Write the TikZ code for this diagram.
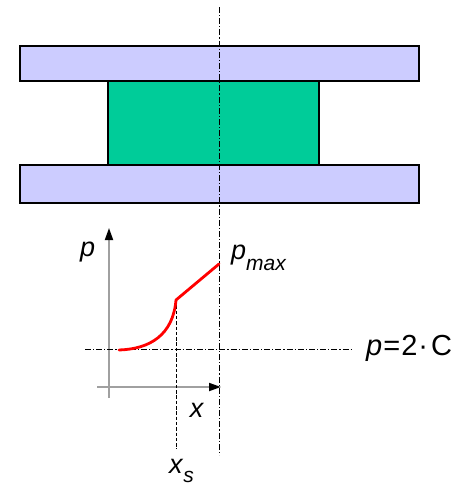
\documentclass[tikz,border=0pt]{standalone}
\usepackage{fontspec}
\setmainfont{Liberation Sans}
\usepackage{xcolor}
\usetikzlibrary{arrows.meta}
\definecolor{plateblue}{HTML}{CCCCFF}
\definecolor{padgreen}{HTML}{00CC99}
\definecolor{axisgray}{HTML}{A0A0A0}
\newcommand{\lowsub}[2]{\raisebox{-#1pt}{\fontsize{21}{24}\selectfont\textit{#2}}}

\begin{document}
\begin{tikzpicture}[
    x=1pt, y=-1pt,
    plate/.style={draw, line width=1.5pt, fill=plateblue},
    pad/.style={draw, line width=1.5pt, fill=padgreen},
    axis/.style={axisgray, line width=1.8pt, -{Triangle[length=12pt, width=8pt, color=black]}},
    centerline/.style={line width=0.9pt, dash pattern=on 6pt off 2pt on 1.2pt off 2pt},
    guide/.style={line width=0.9pt, dash pattern=on 3.5pt off 1.8pt},
    curve/.style={red, line width=2.8pt, line cap=round, line join=round},
    lbl/.style={font=\fontsize{27}{32}\selectfont, inner sep=0pt, anchor=base west}
]
\useasboundingbox (0,0) rectangle (454,488);
% press plates and the pad between them
\draw[plate] (20,46) rectangle (419,81);
\draw[pad] (108,81) rectangle (319,165);
\draw[plate] (20,165) rectangle (419,203);
% axes of the pressure plot
\coordinate (ytip) at (109,228);
\coordinate (xtip) at (221,387);
\coordinate (ybot) at (109,398);
\coordinate (xleft) at (97,387);
\draw[axis] (ybot) -- (ytip);
\draw[axis] (xleft) -- (xtip);
% reference lines
\coordinate (ctop) at (219,7);
\coordinate (cbot) at (219,455);
\coordinate (hl) at (85,349);
\coordinate (hr) at (353,349);
\coordinate (kink) at (176,300);
\coordinate (sbot) at (176,449);
\draw[centerline] (ctop) -- (cbot);
\draw[centerline] (hl) -- (hr);
\draw[guide] (kink) -- (sbot);
% pressure curve
\coordinate (start) at (119,350);
\coordinate (pend) at (219,264);
\draw[curve] (start) .. controls (150,349) and (173,335) .. (kink) -- (pend);
% labels
\node (plab) [lbl] at (80,256) {\textit{p}};
\node (pmax) [lbl] at (231,259) {\textit{p}\lowsub{11}{max}};
\node (xlab) [lbl, anchor=base] at (197,417) {\textit{x}};
\node (xs) [lbl] at (169,473) {\textit{x}\lowsub{9}{s}};
\node (pc) [lbl, font=\fontsize{29}{34}\selectfont] at (366,355) {\textit{p}\kern1pt=\kern1pt2\kern1pt·\kern3pt C};
\end{tikzpicture}
\end{document}
